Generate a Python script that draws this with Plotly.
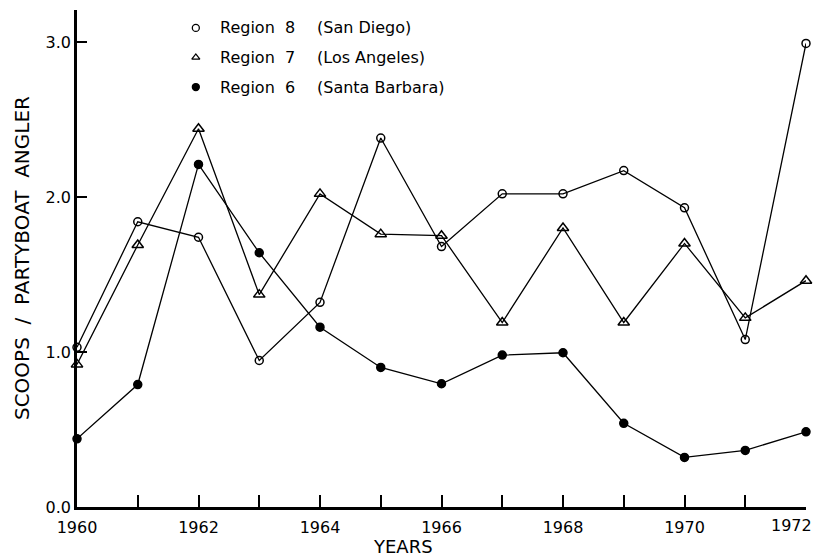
import plotly.graph_objects as go

years = list(range(1960, 1973))

# Region 8 (San Diego) - open circles
region8 = [1.03, 1.84, 1.74, 0.945, 1.32, 2.38, 1.68, 2.02, 2.02, 2.17, 1.93, 1.08, 2.99]
# Region 7 (Los Angeles) - open triangles
region7 = [0.92, 1.69, 2.44, 1.37, 2.02, 1.76, 1.75, 1.19, 1.80, 1.19, 1.70, 1.22, 1.46]
# Region 6 (Santa Barbara) - filled circles
region6 = [0.44, 0.79, 2.21, 1.64, 1.16, 0.90, 0.795, 0.98, 0.995, 0.54, 0.32, 0.365, 0.485]

# last label (1972) is drawn separately so it is not dropped at the right edge
x_labels = ['1960', '', '1962', '', '1964', '', '1966', '', '1968', '', '1970', '', '']
last_label = '1972'
y_vals = [0.0, 1.0, 2.0, 3.0]
y_labels = ['0.0', '1.0', '2.0', '3.0']

legend_names = ['Region  8', 'Region  7', 'Region  6']
legend_places = ['(San Diego)', '(Los Angeles)', '(Santa Barbara)']

FONT = 'DejaVu Sans'

fig = go.Figure()

series = [
  (region8, 'circle-open', 8),
  (region7, 'triangle-up-open', 10),
  (region6, 'circle', 8),
]

for vals, sym, size in series:
  fig.add_trace(go.Scatter(x=years, y=vals, mode='lines+markers',
                           line=dict(color='black', width=1.3),
                           marker=dict(symbol=sym, size=size, color='black',
                                       line=dict(color='black', width=1.5)),
                           cliponaxis=False, showlegend=False))

# hand-drawn style legend (paper coordinates)
for i, sym in enumerate(['circle-open', 'triangle-up-open', 'circle']):
  yy = 0.964 - i * 0.0595
  fig.add_trace(go.Scatter(x=[0.163], y=[yy], xaxis='x2', yaxis='y2', mode='markers',
                           marker=dict(symbol=sym, size=7, color='black',
                                       line=dict(color='black', width=1.3)),
                           cliponaxis=False, showlegend=False))
  fig.add_annotation(x=0.193, y=yy, xref='paper', yref='paper', text=legend_names[i],
                     showarrow=False, xanchor='left', yanchor='middle',
                     font=dict(family=FONT, size=16, color='black'))
  fig.add_annotation(x=0.326, y=yy, xref='paper', yref='paper', text=legend_places[i],
                     showarrow=False, xanchor='left', yanchor='middle',
                     font=dict(family=FONT, size=16, color='black'))

fig.add_annotation(x=years[-1], y=0, xref='x', yref='paper', text=last_label,
                   showarrow=False, xanchor='right', yanchor='top', xshift=8, yshift=-7,
                   font=dict(family=FONT, size=16, color='black'))
fig.add_annotation(x=0.447, y=-0.079, xref='paper', yref='paper', text='YEARS',
                   showarrow=False, xanchor='center', yanchor='middle',
                   font=dict(family=FONT, size=18, color='black'))
fig.add_annotation(x=-0.0754, y=0.501, xref='paper', yref='paper',
                   text='SCOOPS  /  PARTYBOAT  ANGLER', textangle=-90,
                   showarrow=False, xanchor='center', yanchor='middle',
                   font=dict(family=FONT, size=20, color='black'))

# page has an 8px body margin, so the figure is 8px smaller than the window
fig.update_layout(
  width=813, height=550,
  margin=dict(l=69, r=15, t=2, b=51),
  paper_bgcolor='white', plot_bgcolor='white',
  font=dict(family=FONT, size=16, color='black'),
  xaxis=dict(range=[1960, 1972], tickvals=years, ticktext=x_labels,
             ticks='inside', ticklen=12, tickwidth=1.5, tickcolor='black',
             showline=True, linecolor='black', linewidth=2.5, ticklabelstandoff=4,
             showgrid=False, zeroline=False, tickfont=dict(size=16)),
  yaxis=dict(range=[0, 3.206], tickvals=y_vals, ticktext=y_labels,
             ticks='inside', ticklen=10, tickwidth=1.5, tickcolor='black',
             showline=True, linecolor='black', linewidth=2.5,
             showgrid=False, zeroline=False, tickfont=dict(size=16)),
  xaxis2=dict(range=[0, 1], domain=[0, 1], overlaying='x', visible=False, anchor='y2'),
  yaxis2=dict(range=[0, 1], domain=[0, 1], overlaying='y', visible=False, anchor='x2'),
)

fig.write_html("out.html")
